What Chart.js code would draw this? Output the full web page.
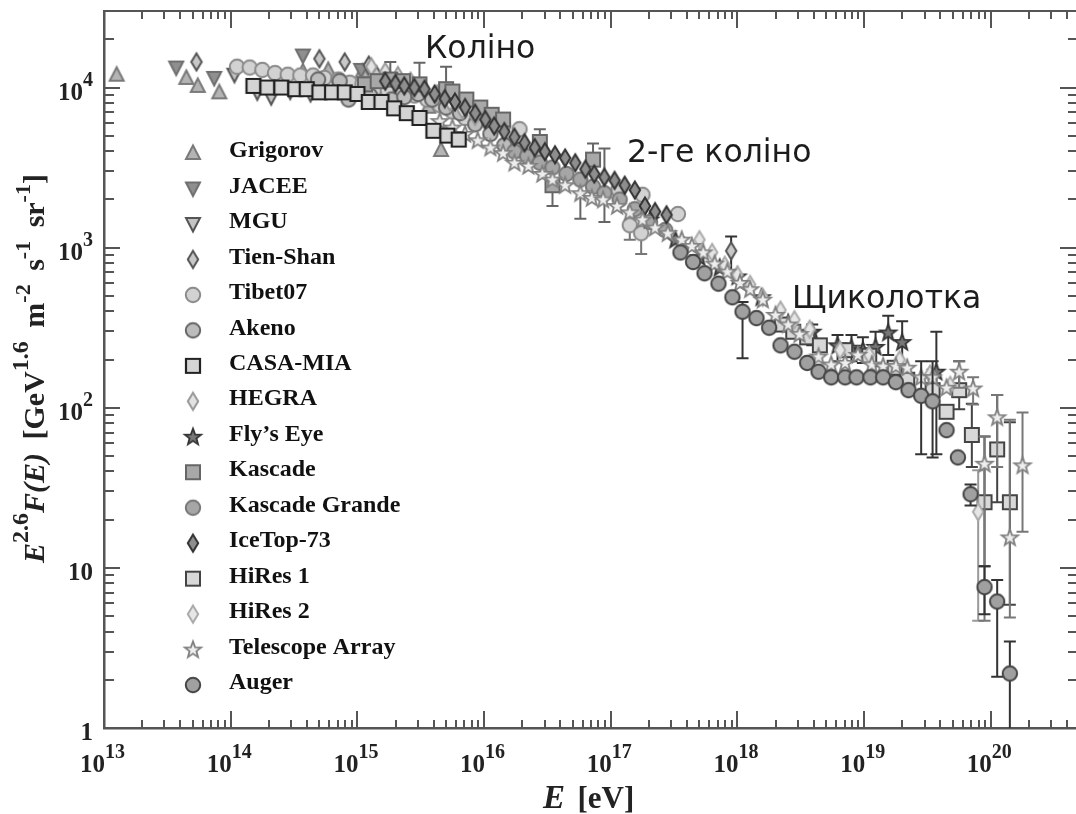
<!DOCTYPE html>
<html>
<head>
<meta charset="utf-8">
<title>Cosmic ray spectrum</title>
<script src="https://cdn.jsdelivr.net/npm/chart.js@4"></script>
<style>
  body { margin: 0; background: #fff; }
  canvas { display: block; filter: blur(0.55px); }
</style>
</head>
<body>
<canvas id="spectrumChart" width="1076" height="814"></canvas>
<script>
// all series are log10(E/eV) and log10(E^2.6 F)
const grigorovE = [13.10,13.65,13.74,13.91,14.57,14.77,15.04,15.56,15.66];
const grigorovF = [4.08,4.06,4.01,3.97,4.10,4.11,4.10,3.88,3.61];

const jaceeE = [13.57,13.87,14.57,15.03];
const jaceeF = [4.125,4.06,4.20,4.11];

const mguE = [14.03,14.21,14.32,14.47,14.63];
const mguF = [4.08,3.97,3.94,3.975,3.96];

const tienShanE = [13.73,14.70,14.90,15.09,15.15,17.95];
const tienShanF = [4.16,4.18,4.16,4.14,4.08,2.98];
const tienShanHi = [null,null,null,null,null,3.07];
const tienShanLo = [null,null,null,null,null,2.86];

const tibetE = [14.05,14.15,14.25,14.35,14.45,14.55,14.65,14.74,14.85,14.94,15.04,15.15,15.24,15.34,15.45,15.55,15.65,15.75,15.85,15.94,16.05,16.15,16.28,17.06,17.15,17.24,17.25,17.53];
const tibetF = [4.13,4.125,4.11,4.09,4.08,4.075,4.075,4.06,4.05,4.03,4.02,4.00,3.98,3.97,3.95,3.925,3.89,3.85,3.81,3.79,3.77,3.76,3.74,3.36,3.14,3.09,3.33,3.21];
const tibetLo = [null,null,null,null,null,null,null,null,null,null,null,null,null,null,null,null,null,null,null,null,null,null,null,null,3.05,2.96,null,null];

const akenoE = [14.69,14.86,14.93,15.10,15.27,15.37,15.48,15.59,15.70,15.81,15.93,16.05,16.16,16.28,16.40];
const akenoF = [4.05,4.04,3.925,3.95,3.925,3.94,3.96,3.925,3.875,3.84,3.77,3.71,3.64,3.61,3.575];

const casaMiaE = [14.18,14.29,14.40,14.51,14.60,14.70,14.80,14.90,15.00,15.09,15.19,15.29,15.39,15.49,15.60,15.71,15.80];
const casaMiaF = [4.01,4.00,4.00,3.99,3.99,3.97,3.97,3.97,3.96,3.91,3.91,3.87,3.84,3.81,3.73,3.70,3.675];

const hegraE = [15.11,15.22,15.32,15.42,15.52,15.63,15.73,15.83,15.93];
const hegraF = [4.13,4.10,4.075,4.04,4.00,3.96,3.91,3.86,3.82];

const flysEyeE = [17.31,17.51,17.70,17.86,18.00,18.19,18.40,18.59,18.79,18.90,18.99,19.09,19.19,19.30,19.57];
const flysEyeF = [3.175,3.05,2.94,2.875,2.82,2.69,2.53,2.475,2.39,2.375,2.36,2.38,2.47,2.41,2.225];
const flysEyeHi = [null,null,null,null,null,null,null,2.52,2.455,2.455,2.44,2.475,2.575,2.54,2.475];
const flysEyeLo = [null,null,null,null,null,null,null,2.39,2.29,2.29,2.28,2.26,2.33,2.27,1.71];

const kascadeE = [15.06,15.16,15.26,15.36,15.49,15.70,15.75,15.86,15.97,16.06,16.15,16.44,16.54,16.86];
const kascadeF = [4.02,4.04,4.05,4.04,4.02,3.99,3.975,3.925,3.875,3.83,3.80,3.66,3.39,3.55];
const kascadeHi = [null,null,4.16,null,4.155,4.13,null,null,null,null,null,3.74,null,3.65];
const kascadeLo = [null,null,null,null,null,null,null,null,null,null,null,null,3.26,null];

const grandeE = [16.24,16.34,16.44,16.54,16.65,16.76,16.86,16.95,17.07,17.19,17.31,17.43];
const grandeF = [3.60,3.57,3.53,3.50,3.46,3.425,3.38,3.34,3.30,3.24,3.16,3.11];
const grandeHi = [null,null,null,null,null,null,null,3.62,null,null,null,null];
const grandeLo = [null,null,null,null,null,3.18,null,3.16,null,null,null,null];

const iceTopE = [15.22,15.30,15.37,15.45,15.53,15.61,15.69,15.77,15.85,15.93,16.01,16.08,16.16,16.24,16.32,16.40,16.48,16.56,16.64,16.72,16.80,16.87,16.95,17.03,17.11,17.19,17.27,17.35,17.44];
const iceTopF = [4.04,4.025,4.01,4.00,3.99,3.96,3.93,3.91,3.875,3.84,3.80,3.76,3.725,3.69,3.655,3.625,3.60,3.58,3.56,3.53,3.49,3.46,3.44,3.42,3.39,3.36,3.26,3.225,3.205];

const hires1E = [18.35,18.44,18.55,18.65,18.85,19.04,19.24,19.34,19.54,19.65,19.75,19.85,19.95,20.05,20.15];
const hires1F = [2.52,2.475,2.44,2.39,2.36,2.325,2.25,2.175,2.11,1.975,2.11,1.83,1.41,1.74,1.41];
const hires1Hi = [null,null,null,null,null,null,null,null,null,null,2.29,2.025,1.82,2.08,1.91];
const hires1Lo = [null,null,null,null,null,null,null,null,null,null,1.99,1.63,1.01,1.41,0.77];

const hires2E = [17.70,17.80,17.90,18.00,18.10,18.20,18.34,18.45,18.57,18.81,19.04,19.28,19.52,19.68,19.90];
const hires2F = [3.05,2.97,2.89,2.83,2.77,2.69,2.61,2.55,2.49,2.36,2.33,2.30,2.21,2.14,1.35];
const hires2Hi = [null,null,null,null,null,null,null,null,null,null,null,null,null,null,1.61];
const hires2Lo = [null,null,null,null,null,null,null,null,null,null,null,null,null,null,0.67];

const taE = [15.65,15.75,15.85,15.95,16.05,16.15,16.24,16.35,16.46,16.54,16.64,16.76,16.85,16.94,17.05,17.15,17.25,17.35,17.45,17.56,17.64,17.73,17.82,17.92,18.02,18.10,18.20,18.30,18.40,18.49,18.64,18.74,18.85,18.95,19.06,19.15,19.25,19.34,19.45,19.54,19.65,19.75,19.86,19.95,20.05,20.15,20.25];
const taF = [3.79,3.75,3.71,3.67,3.625,3.59,3.53,3.51,3.46,3.425,3.39,3.34,3.31,3.30,3.26,3.22,3.175,3.125,3.09,3.05,3.01,2.97,2.90,2.85,2.78,2.74,2.675,2.58,2.52,2.46,2.32,2.27,2.28,2.33,2.27,2.26,2.26,2.25,2.19,2.19,2.125,2.225,2.12,1.65,1.94,1.19,1.64];
const taHi = [null,null,null,null,null,null,null,null,null,null,null,null,null,null,null,null,null,null,null,null,null,null,null,null,null,null,null,null,null,null,null,null,null,null,null,null,null,null,null,null,null,2.29,2.19,1.82,2.08,1.925,1.97];
const taLo = [null,null,null,null,null,null,null,null,null,null,null,null,null,null,null,null,null,null,null,null,null,null,null,null,null,null,null,null,null,null,null,null,null,null,null,null,null,null,null,null,null,2.125,2.02,0.67,1.63,0.69,1.225];

const augerE = [17.55,17.65,17.74,17.85,17.96,18.04,18.15,18.25,18.34,18.45,18.55,18.64,18.74,18.85,18.94,19.05,19.15,19.25,19.35,19.45,19.54,19.65,19.74,19.84,19.95,20.05,20.15];
const augerF = [2.97,2.91,2.84,2.775,2.69,2.60,2.56,2.50,2.39,2.35,2.28,2.225,2.19,2.19,2.19,2.19,2.19,2.16,2.11,2.075,2.04,1.86,1.69,1.46,0.88,0.79,0.34];
const augerHi = [null,null,null,null,null,2.66,null,null,null,null,null,null,null,null,null,null,null,null,null,2.29,2.29,null,null,1.52,1.01,0.925,0.54];
const augerLo = [null,null,null,null,null,2.31,null,null,null,null,null,null,null,null,null,null,null,null,null,1.71,1.69,null,null,1.39,0.71,0.32,0];

const xTickValues = [1e13,1e14,1e15,1e16,1e17,1e18,1e19,1e20];
const xTickPowers = ['13','14','15','16','17','18','19','20'];
const yTickValues = [1,10,100,1000,10000];
const yTickBases = ['1','10','10','10','10'];
const yTickPowers = ['','','2','3','4'];

const serif = '"Liberation Serif", serif';
const axisColor = '#555';

function makeMarker(shape, fill, stroke, lw) {
  const c = document.createElement('canvas');
  c.width = 24;
  c.height = 24;
  const g = c.getContext('2d');
  g.fillStyle = fill;
  g.strokeStyle = stroke;
  g.lineWidth = lw;
  g.lineJoin = 'miter';
  g.beginPath();
  if (shape == 'circle') {
    g.arc(12, 12, 7.2, 0, Math.PI * 2);
  } else if (shape == 'square') {
    g.rect(5, 5, 14, 14);
  } else if (shape == 'up') {
    g.moveTo(12, 4.5); g.lineTo(19, 18); g.lineTo(5, 18); g.closePath();
  } else if (shape == 'down') {
    g.moveTo(12, 19.5); g.lineTo(19, 6); g.lineTo(5, 6); g.closePath();
  } else if (shape == 'diamond') {
    g.moveTo(12, 3.5); g.lineTo(17.2, 12); g.lineTo(12, 20.5); g.lineTo(6.8, 12); g.closePath();
  } else if (shape == 'star') {
    for (let i = 0; i < 10; i++) {
      const r = i % 2 ? 3.6 : 8.6;
      const a = -Math.PI / 2 + i * Math.PI / 5;
      g.lineTo(12 + r * Math.cos(a), 12.5 + r * Math.sin(a));
    }
    g.closePath();
  }
  g.fill();
  g.stroke();
  return c;
}

const series = [
  {name: 'Grigorov', e: grigorovE, f: grigorovF, marker: makeMarker('up', '#b4b4b4', '#7a7a7a', 2), bar: '#777', order: -1},
  {name: 'JACEE', e: jaceeE, f: jaceeF, marker: makeMarker('down', '#8f8f8f', '#6f6f6f', 2), bar: '#666', order: -2},
  {name: 'MGU', e: mguE, f: mguF, marker: makeMarker('down', '#c4c4c4', '#555', 2), bar: '#555', order: -3},
  {name: 'Tien-Shan', e: tienShanE, f: tienShanF, hi: tienShanHi, lo: tienShanLo, marker: makeMarker('diamond', '#c8c8c8', '#555', 2), bar: '#333', order: -4},
  {name: 'Tibet07', e: tibetE, f: tibetF, lo: tibetLo, marker: makeMarker('circle', '#d2d2d2', '#8a8a8a', 2), bar: '#777', order: -5},
  {name: 'Akeno', e: akenoE, f: akenoF, marker: makeMarker('circle', '#bcbcbc', '#666', 2), bar: '#555', order: -6},
  {name: 'CASA-MIA', e: casaMiaE, f: casaMiaF, marker: makeMarker('square', '#d4d4d4', '#222', 2.2), bar: '#222', order: -30},
  {name: 'HEGRA', e: hegraE, f: hegraF, marker: makeMarker('diamond', '#e2e2e2', '#999', 2), bar: '#999', order: -8},
  {name: 'Fly’s Eye', e: flysEyeE, f: flysEyeF, hi: flysEyeHi, lo: flysEyeLo, marker: makeMarker('star', '#777', '#333', 1.8), bar: '#333', order: -9},
  {name: 'Kascade', e: kascadeE, f: kascadeF, hi: kascadeHi, lo: kascadeLo, marker: makeMarker('square', '#a8a8a8', '#666', 2), bar: '#666', order: -10},
  {name: 'Kascade Grande', e: grandeE, f: grandeF, hi: grandeHi, lo: grandeLo, marker: makeMarker('circle', '#a6a6a6', '#777', 2), bar: '#666', order: -11},
  {name: 'IceTop-73', e: iceTopE, f: iceTopF, marker: makeMarker('diamond', '#8e8e8e', '#333', 2), bar: '#333', order: -12},
  {name: 'HiRes 1', e: hires1E, f: hires1F, hi: hires1Hi, lo: hires1Lo, marker: makeMarker('square', '#d8d8d8', '#444', 2), bar: '#444', order: -13},
  {name: 'HiRes 2', e: hires2E, f: hires2F, hi: hires2Hi, lo: hires2Lo, marker: makeMarker('diamond', '#e6e6e6', '#aaa', 2), bar: '#999', order: -14},
  {name: 'Telescope Array', e: taE, f: taF, hi: taHi, lo: taLo, marker: makeMarker('star', '#eee', '#808080', 1.8), bar: '#777', order: -15},
  {name: 'Auger', e: augerE, f: augerF, hi: augerHi, lo: augerLo, marker: makeMarker('circle', '#a0a0a0', '#444', 2), bar: '#333', order: -16}
];

const notes = [
  {text: 'Коліно', x: 425, y: 50},
  {text: '2-ге коліно', x: 627, y: 154},
  {text: 'Щиколотка', x: 792, y: 300}
];

// each run: text, font, how far it is raised
const yTitleRuns = [
  ['E', 'italic bold 30px', 0], ['2.6', 'bold 24px', 16],
  ['F(E)', 'italic bold 30px', 0], [' ', 'bold 54px', 0], ['[GeV', 'bold 30px', 0], ['1.6', 'bold 24px', 16],
  [' ', 'bold 54px', 0], ['m', 'bold 30px', 0], ['-2', 'bold 22px', 14], [' ', 'bold 54px', 0], ['s', 'bold 30px', 0], ['-1', 'bold 22px', 14],
  [' ', 'bold 54px', 0], ['sr', 'bold 30px', 0], ['-1', 'bold 22px', 14], [']', 'bold 30px', 0]
];
const xTitleRuns = [['E', 'italic bold 33px', 0], [' ', 'bold 50px', 0], ['[eV]', 'bold 31px', 0]];

function drawRuns(ctx, runs, x, y) {
  let pos = x;
  runs.forEach(function (r) {
    ctx.font = r[1] + ' ' + serif;
    ctx.fillText(r[0], pos, y - r[2]);
    pos += ctx.measureText(r[0]).width;
  });
}

// error bars go under the marks of their own series
const errorBars = {
  id: 'errorBars',
  beforeDatasetDraw(chart, args) {
    const s = series[args.index];
    if (!s.hi && !s.lo) return;
    const ctx = chart.ctx;
    const xs = chart.scales.x, ys = chart.scales.y;
    ctx.save();
    ctx.strokeStyle = s.bar;
    ctx.lineWidth = 2;
    s.e.forEach(function (e, i) {
      const hi = s.hi ? s.hi[i] : null;
      const lo = s.lo ? s.lo[i] : null;
      if (hi === null && lo === null) return;
      const px = xs.getPixelForValue(Math.pow(10, e));
      const mid = ys.getPixelForValue(Math.pow(10, s.f[i]));
      ctx.beginPath();
      [hi, lo].forEach(function (v) {
        if (v === null) return;
        const py = ys.getPixelForValue(Math.pow(10, v));
        ctx.moveTo(px, mid);
        ctx.lineTo(px, py);
        if (v > 0) {
          ctx.moveTo(px - 6, py);
          ctx.lineTo(px + 6, py);
        }
      });
      ctx.stroke();
    });
    ctx.restore();
  }
};

// inward ticks on all four sides, tick labels, top line, titles, legend, notes
const decorations = {
  id: 'decorations',
  afterDatasetsDraw(chart) {
    const ctx = chart.ctx;
    const a = chart.chartArea;
    const xs = chart.scales.x, ys = chart.scales.y;
    ctx.save();
    ctx.strokeStyle = axisColor;
    ctx.lineWidth = 2;
    ctx.beginPath();
    ctx.moveTo(a.left, a.top);
    ctx.lineTo(a.right, a.top);
    for (let d = 13; d <= 20; d++) {
      for (let m = 1; m <= 9; m++) {
        const v = m * Math.pow(10, d);
        if (v > xs.max) continue;
        const px = Math.round(xs.getPixelForValue(v));
        ctx.moveTo(px, a.bottom);
        ctx.lineTo(px, a.bottom - (m == 1 ? 17 : 8));
        ctx.moveTo(px, a.top);
        ctx.lineTo(px, a.top + (m == 1 ? 17 : 8));
      }
    }
    for (let d = 0; d <= 4; d++) {
      for (let m = 1; m <= 9; m++) {
        const v = m * Math.pow(10, d);
        if (v > ys.max) continue;
        const py = Math.round(ys.getPixelForValue(v));
        ctx.moveTo(a.left, py);
        ctx.lineTo(a.left + (m == 1 ? 16 : 10), py);
        ctx.moveTo(a.right, py);
        ctx.lineTo(a.right - (m == 1 ? 16 : 8), py);
      }
    }
    ctx.stroke();

    // tick labels, the library can not raise the powers
    ctx.fillStyle = '#222';
    ctx.textBaseline = 'alphabetic';
    xTickValues.forEach(function (v, i) {
      const px = xs.getPixelForValue(v);
      drawRuns(ctx, [['10', 'bold 25px', 0], [xTickPowers[i], 'bold 20px', 14]], px - 24, a.bottom + 44);
    });
    yTickValues.forEach(function (v, i) {
      const py = ys.getPixelForValue(v);
      const runs = [[yTickBases[i], 'bold 25px', 0], [yTickPowers[i], 'bold 20px', 14]];
      let w = 0;
      runs.forEach(function (r) { ctx.font = r[1] + ' ' + serif; w += ctx.measureText(r[0]).width; });
      drawRuns(ctx, runs, 93 - w, py + 12);
    });

    // legend
    ctx.fillStyle = '#111';
    ctx.textBaseline = 'middle';
    ctx.textAlign = 'left';
    ctx.font = 'bold 24px ' + serif;
    series.forEach(function (s, i) {
      const y = 153 + i * 35.47;
      ctx.drawImage(s.marker, 193 - 12, y - 12);
      ctx.fillText(s.name, 229, y - 2);
    });

    // axis titles
    ctx.textBaseline = 'alphabetic';
    ctx.fillStyle = '#222';
    drawRuns(ctx, xTitleRuns, 543, 808);
    ctx.save();
    ctx.translate(44, 563);
    ctx.rotate(-Math.PI / 2);
    drawRuns(ctx, yTitleRuns, 0, 0);
    ctx.restore();

    // notes
    ctx.fillStyle = '#1c1c1c';
    ctx.font = '31.5px "DejaVu Sans"';
    ctx.textBaseline = 'middle';
    notes.forEach(function (n) { ctx.fillText(n.text, n.x, n.y); });
    ctx.restore();
  }
};

new Chart(document.getElementById('spectrumChart'), {
  type: 'scatter',
  data: {
    datasets: series.map(function (s) {
      return {
        label: s.name,
        data: s.e.map(function (e, i) { return {x: Math.pow(10, e), y: Math.pow(10, s.f[i])}; }),
        pointStyle: s.marker,
        pointRadius: 8,
        order: s.order
      };
    })
  },
  options: {
    responsive: false,
    animation: false,
    layout: {autoPadding: false, padding: {top: 11}},
    plugins: {legend: {display: false}, tooltip: {enabled: false}},
    scales: {
      x: {
        type: 'logarithmic',
        min: 1e13,
        max: 4.7e20,
        grid: {display: false, drawTicks: false},
        border: {display: true, color: axisColor, width: 2.5},
        afterFit(scale) { scale.height = 86; },
        afterBuildTicks(scale) { scale.ticks = xTickValues.map(function (v) { return {value: v}; }); },
        ticks: {display: false}
      },
      y: {
        type: 'logarithmic',
        min: 1,
        max: 30060,
        grid: {display: false, drawTicks: false},
        border: {display: true, color: axisColor, width: 2.5},
        afterFit(scale) { scale.width = 104; },
        afterBuildTicks(scale) { scale.ticks = yTickValues.map(function (v) { return {value: v}; }); },
        ticks: {display: false}
      }
    }
  },
  plugins: [errorBars, decorations]
});
</script>
</body>
</html>
